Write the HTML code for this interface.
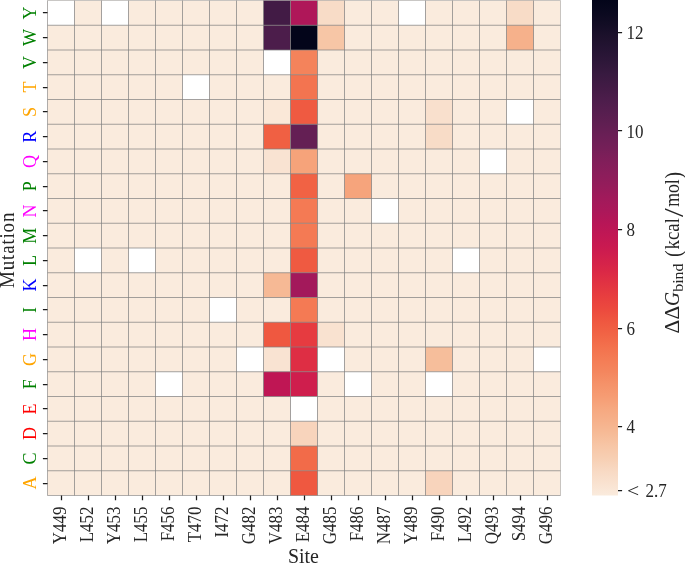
<!DOCTYPE html>
<html><head><meta charset="utf-8"><title>Heatmap</title>
<style>
html,body{margin:0;padding:0;background:#fff;}
body{width:685px;height:564px;overflow:hidden;}
svg{display:block;will-change:transform;}
text{font-family:"Liberation Serif","DejaVu Serif",serif;fill:#262626;}
.tk{font-size:17px;}
.ax{font-size:19px;}
</style></head><body>
<svg width="685" height="564" viewBox="0 0 685 564">
<defs><linearGradient id="cb" x1="0" y1="1" x2="0" y2="0">
<stop offset="0.000" stop-color="#faebdd"/>
<stop offset="0.025" stop-color="#f9e2d0"/>
<stop offset="0.050" stop-color="#f8d9c3"/>
<stop offset="0.075" stop-color="#f7cfb3"/>
<stop offset="0.100" stop-color="#f7c6a6"/>
<stop offset="0.125" stop-color="#f6bb97"/>
<stop offset="0.150" stop-color="#f6b18b"/>
<stop offset="0.175" stop-color="#f6a880"/>
<stop offset="0.200" stop-color="#f69c73"/>
<stop offset="0.225" stop-color="#f59269"/>
<stop offset="0.250" stop-color="#f4865e"/>
<stop offset="0.275" stop-color="#f47c55"/>
<stop offset="0.300" stop-color="#f3714d"/>
<stop offset="0.325" stop-color="#f16445"/>
<stop offset="0.350" stop-color="#ef5840"/>
<stop offset="0.375" stop-color="#ec4a3e"/>
<stop offset="0.400" stop-color="#e83f3f"/>
<stop offset="0.425" stop-color="#e23442"/>
<stop offset="0.450" stop-color="#db2946"/>
<stop offset="0.475" stop-color="#d3214b"/>
<stop offset="0.500" stop-color="#ca1a50"/>
<stop offset="0.525" stop-color="#c11754"/>
<stop offset="0.550" stop-color="#b71657"/>
<stop offset="0.575" stop-color="#ab185a"/>
<stop offset="0.600" stop-color="#a11a5b"/>
<stop offset="0.625" stop-color="#951c5b"/>
<stop offset="0.650" stop-color="#8b1d5b"/>
<stop offset="0.675" stop-color="#811e5a"/>
<stop offset="0.700" stop-color="#751f58"/>
<stop offset="0.725" stop-color="#6b1f56"/>
<stop offset="0.750" stop-color="#601f52"/>
<stop offset="0.775" stop-color="#561e4f"/>
<stop offset="0.800" stop-color="#4c1d4b"/>
<stop offset="0.825" stop-color="#421b45"/>
<stop offset="0.850" stop-color="#381a40"/>
<stop offset="0.875" stop-color="#2e1739"/>
<stop offset="0.900" stop-color="#251433"/>
<stop offset="0.925" stop-color="#1d112c"/>
<stop offset="0.950" stop-color="#130d25"/>
<stop offset="0.975" stop-color="#0a091f"/>
<stop offset="1.000" stop-color="#03051a"/>
</linearGradient></defs>
<rect x="0" y="0" width="685" height="564" fill="#ffffff"/>
<rect x="47.5" y="0.5" width="513.0" height="495.00" fill="#faebdd"/>
<rect x="263.50" y="0.50" width="27.0" height="24.75" fill="#421b45"/>
<rect x="290.50" y="0.50" width="27.0" height="24.75" fill="#af1759"/>
<rect x="317.50" y="0.50" width="27.0" height="24.75" fill="#f8dcc7"/>
<rect x="506.50" y="0.50" width="27.0" height="24.75" fill="#f8dcc7"/>
<rect x="263.50" y="25.25" width="27.0" height="24.75" fill="#4c1d4b"/>
<rect x="290.50" y="25.25" width="27.0" height="24.75" fill="#03051a"/>
<rect x="317.50" y="25.25" width="27.0" height="24.75" fill="#f7c6a6"/>
<rect x="506.50" y="25.25" width="27.0" height="24.75" fill="#f6b18b"/>
<rect x="290.50" y="50.00" width="27.0" height="24.75" fill="#f4835b"/>
<rect x="290.50" y="74.75" width="27.0" height="24.75" fill="#f37450"/>
<rect x="263.50" y="99.50" width="27.0" height="24.75" fill="#fae8d8"/>
<rect x="290.50" y="99.50" width="27.0" height="24.75" fill="#ef5a41"/>
<rect x="425.50" y="99.50" width="27.0" height="24.75" fill="#f9e0cd"/>
<rect x="263.50" y="124.25" width="27.0" height="24.75" fill="#f06043"/>
<rect x="290.50" y="124.25" width="27.0" height="24.75" fill="#641f54"/>
<rect x="425.50" y="124.25" width="27.0" height="24.75" fill="#f8dcc7"/>
<rect x="263.50" y="149.00" width="27.0" height="24.75" fill="#f9e3d2"/>
<rect x="290.50" y="149.00" width="27.0" height="24.75" fill="#f6a37a"/>
<rect x="290.50" y="173.75" width="27.0" height="24.75" fill="#f16244"/>
<rect x="344.50" y="173.75" width="27.0" height="24.75" fill="#f6a47c"/>
<rect x="290.50" y="198.50" width="27.0" height="24.75" fill="#f47a54"/>
<rect x="290.50" y="223.25" width="27.0" height="24.75" fill="#f47a54"/>
<rect x="290.50" y="248.00" width="27.0" height="24.75" fill="#ef5a41"/>
<rect x="263.50" y="272.75" width="27.0" height="24.75" fill="#f6b995"/>
<rect x="290.50" y="272.75" width="27.0" height="24.75" fill="#a3195b"/>
<rect x="290.50" y="297.50" width="27.0" height="24.75" fill="#f47a54"/>
<rect x="263.50" y="322.25" width="27.0" height="24.75" fill="#ef5840"/>
<rect x="290.50" y="322.25" width="27.0" height="24.75" fill="#e63b40"/>
<rect x="317.50" y="322.25" width="27.0" height="24.75" fill="#f9e2d0"/>
<rect x="263.50" y="347.00" width="27.0" height="24.75" fill="#f9e3d2"/>
<rect x="290.50" y="347.00" width="27.0" height="24.75" fill="#de2e44"/>
<rect x="425.50" y="347.00" width="27.0" height="24.75" fill="#f6be9b"/>
<rect x="263.50" y="371.75" width="27.0" height="24.75" fill="#bf1654"/>
<rect x="290.50" y="371.75" width="27.0" height="24.75" fill="#cf1e4d"/>
<rect x="290.50" y="421.25" width="27.0" height="24.75" fill="#f8d4bc"/>
<rect x="290.50" y="446.00" width="27.0" height="24.75" fill="#f26b49"/>
<rect x="290.50" y="470.75" width="27.0" height="24.75" fill="#ef5840"/>
<rect x="425.50" y="470.75" width="27.0" height="24.75" fill="#f8d4bc"/>
<rect x="47.50" y="0.50" width="27.0" height="24.75" fill="#ffffff"/>
<rect x="74.50" y="248.00" width="27.0" height="24.75" fill="#ffffff"/>
<rect x="101.50" y="0.50" width="27.0" height="24.75" fill="#ffffff"/>
<rect x="128.50" y="248.00" width="27.0" height="24.75" fill="#ffffff"/>
<rect x="155.50" y="371.75" width="27.0" height="24.75" fill="#ffffff"/>
<rect x="182.50" y="74.75" width="27.0" height="24.75" fill="#ffffff"/>
<rect x="209.50" y="297.50" width="27.0" height="24.75" fill="#ffffff"/>
<rect x="236.50" y="347.00" width="27.0" height="24.75" fill="#ffffff"/>
<rect x="263.50" y="50.00" width="27.0" height="24.75" fill="#ffffff"/>
<rect x="290.50" y="396.50" width="27.0" height="24.75" fill="#ffffff"/>
<rect x="317.50" y="347.00" width="27.0" height="24.75" fill="#ffffff"/>
<rect x="344.50" y="371.75" width="27.0" height="24.75" fill="#ffffff"/>
<rect x="371.50" y="198.50" width="27.0" height="24.75" fill="#ffffff"/>
<rect x="398.50" y="0.50" width="27.0" height="24.75" fill="#ffffff"/>
<rect x="425.50" y="371.75" width="27.0" height="24.75" fill="#ffffff"/>
<rect x="452.50" y="248.00" width="27.0" height="24.75" fill="#ffffff"/>
<rect x="479.50" y="149.00" width="27.0" height="24.75" fill="#ffffff"/>
<rect x="506.50" y="99.50" width="27.0" height="24.75" fill="#ffffff"/>
<rect x="533.50" y="347.00" width="27.0" height="24.75" fill="#ffffff"/>
<path d="M74.50 0.50V495.50M101.50 0.50V495.50M128.50 0.50V495.50M155.50 0.50V495.50M182.50 0.50V495.50M209.50 0.50V495.50M236.50 0.50V495.50M263.50 0.50V495.50M290.50 0.50V495.50M317.50 0.50V495.50M344.50 0.50V495.50M371.50 0.50V495.50M398.50 0.50V495.50M425.50 0.50V495.50M452.50 0.50V495.50M479.50 0.50V495.50M506.50 0.50V495.50M533.50 0.50V495.50M47.50 25.25H560.50M47.50 50.00H560.50M47.50 74.75H560.50M47.50 99.50H560.50M47.50 124.25H560.50M47.50 149.00H560.50M47.50 173.75H560.50M47.50 198.50H560.50M47.50 223.25H560.50M47.50 248.00H560.50M47.50 272.75H560.50M47.50 297.50H560.50M47.50 322.25H560.50M47.50 347.00H560.50M47.50 371.75H560.50M47.50 396.50H560.50M47.50 421.25H560.50M47.50 446.00H560.50M47.50 470.75H560.50" stroke="#808080" stroke-opacity="0.72" stroke-width="1" fill="none"/>
<path d="M47.50 0.50V495.50H560.50" stroke="#808080" stroke-opacity="0.62" stroke-width="1" fill="none"/>
<path d="M47.50 0.50H560.50V495.50" stroke="#808080" stroke-opacity="0.42" stroke-width="1" fill="none"/>
<rect x="592.0" y="0" width="26.00" height="495.50" fill="url(#cb)"/>
<path d="M61.50 495.50v4.7M88.50 495.50v4.7M115.50 495.50v4.7M142.50 495.50v4.7M169.50 495.50v4.7M196.50 495.50v4.7M223.50 495.50v4.7M250.50 495.50v4.7M277.50 495.50v4.7M304.50 495.50v4.7M331.50 495.50v4.7M358.50 495.50v4.7M385.50 495.50v4.7M412.50 495.50v4.7M439.50 495.50v4.7M466.50 495.50v4.7M493.50 495.50v4.7M520.50 495.50v4.7M547.50 495.50v4.7M47.50 12.50h-4.6M47.50 37.50h-4.6M47.50 62.50h-4.6M47.50 87.50h-4.6M47.50 111.50h-4.6M47.50 136.50h-4.6M47.50 161.50h-4.6M47.50 186.50h-4.6M47.50 210.50h-4.6M47.50 235.50h-4.6M47.50 260.50h-4.6M47.50 285.50h-4.6M47.50 309.50h-4.6M47.50 334.50h-4.6M47.50 359.50h-4.6M47.50 384.50h-4.6M47.50 408.50h-4.6M47.50 433.50h-4.6M47.50 458.50h-4.6M47.50 483.50h-4.6M618.00 32.50h4.1M618.00 130.50h4.1M618.00 229.50h4.1M618.00 328.50h4.1M618.00 426.50h4.1M618.00 490.50h4.1" stroke="#1c1c1c" stroke-width="1.25" fill="none"/>
<text class="tk" transform="translate(626.5 39.35) scale(1 1.09)">12</text>
<text class="tk" transform="translate(626.5 137.87) scale(1 1.09)">10</text>
<text class="tk" transform="translate(626.5 236.39) scale(1 1.09)">8</text>
<text class="tk" transform="translate(626.5 334.91) scale(1 1.09)">6</text>
<text class="tk" transform="translate(626.5 433.43) scale(1 1.09)">4</text>
<text class="tk" transform="translate(626.5 497.47) scale(1 1.09)"><tspan x="0.6" textLength="12.2" lengthAdjust="spacingAndGlyphs">&lt;</tspan> <tspan x="18.9">2.7</tspan></text>
<text class="tk" transform="translate(36.2 12.88) rotate(-90) scale(1.06 1.09)" text-anchor="middle" style="fill:#008000">Y</text>
<text class="tk" transform="translate(36.2 37.62) rotate(-90) scale(1.06 1.09)" text-anchor="middle" style="fill:#008000">W</text>
<text class="tk" transform="translate(36.2 62.38) rotate(-90) scale(1.06 1.09)" text-anchor="middle" style="fill:#008000">V</text>
<text class="tk" transform="translate(36.2 87.12) rotate(-90) scale(1.06 1.09)" text-anchor="middle" style="fill:#ffa500">T</text>
<text class="tk" transform="translate(36.2 111.88) rotate(-90) scale(1.06 1.09)" text-anchor="middle" style="fill:#ffa500">S</text>
<text class="tk" transform="translate(36.2 136.62) rotate(-90) scale(1.06 1.09)" text-anchor="middle" style="fill:#0000ff">R</text>
<text class="tk" transform="translate(36.2 161.38) rotate(-90) scale(1.06 1.09)" text-anchor="middle" style="fill:#ff00ff">Q</text>
<text class="tk" transform="translate(36.2 186.12) rotate(-90) scale(1.06 1.09)" text-anchor="middle" style="fill:#008000">P</text>
<text class="tk" transform="translate(36.2 210.88) rotate(-90) scale(1.06 1.09)" text-anchor="middle" style="fill:#ff00ff">N</text>
<text class="tk" transform="translate(36.2 235.62) rotate(-90) scale(1.06 1.09)" text-anchor="middle" style="fill:#008000">M</text>
<text class="tk" transform="translate(36.2 260.38) rotate(-90) scale(1.06 1.09)" text-anchor="middle" style="fill:#008000">L</text>
<text class="tk" transform="translate(36.2 285.12) rotate(-90) scale(1.06 1.09)" text-anchor="middle" style="fill:#0000ff">K</text>
<text class="tk" transform="translate(36.2 309.88) rotate(-90) scale(1.06 1.09)" text-anchor="middle" style="fill:#008000">I</text>
<text class="tk" transform="translate(36.2 334.62) rotate(-90) scale(1.06 1.09)" text-anchor="middle" style="fill:#ff00ff">H</text>
<text class="tk" transform="translate(36.2 359.38) rotate(-90) scale(1.06 1.09)" text-anchor="middle" style="fill:#ffa500">G</text>
<text class="tk" transform="translate(36.2 384.12) rotate(-90) scale(1.06 1.09)" text-anchor="middle" style="fill:#008000">F</text>
<text class="tk" transform="translate(36.2 408.88) rotate(-90) scale(1.06 1.09)" text-anchor="middle" style="fill:#ff0000">E</text>
<text class="tk" transform="translate(36.2 433.62) rotate(-90) scale(1.06 1.09)" text-anchor="middle" style="fill:#ff0000">D</text>
<text class="tk" transform="translate(36.2 458.38) rotate(-90) scale(1.06 1.09)" text-anchor="middle" style="fill:#008000">C</text>
<text class="tk" transform="translate(36.2 483.12) rotate(-90) scale(1.06 1.09)" text-anchor="middle" style="fill:#ffa500">A</text>
<text class="tk" transform="translate(66.30 506.4) rotate(-90) scale(1 1.09)" text-anchor="end">Y449</text>
<text class="tk" transform="translate(93.30 506.4) rotate(-90) scale(1 1.09)" text-anchor="end">L452</text>
<text class="tk" transform="translate(120.30 506.4) rotate(-90) scale(1 1.09)" text-anchor="end">Y453</text>
<text class="tk" transform="translate(147.30 506.4) rotate(-90) scale(1 1.09)" text-anchor="end">L455</text>
<text class="tk" transform="translate(174.30 506.4) rotate(-90) scale(1 1.09)" text-anchor="end">F456</text>
<text class="tk" transform="translate(201.30 506.4) rotate(-90) scale(1 1.09)" text-anchor="end">T470</text>
<text class="tk" transform="translate(228.30 506.4) rotate(-90) scale(1 1.09)" text-anchor="end">I472</text>
<text class="tk" transform="translate(255.30 506.4) rotate(-90) scale(1 1.09)" text-anchor="end">G482</text>
<text class="tk" transform="translate(282.30 506.4) rotate(-90) scale(1 1.09)" text-anchor="end">V483</text>
<text class="tk" transform="translate(309.30 506.4) rotate(-90) scale(1 1.09)" text-anchor="end">E484</text>
<text class="tk" transform="translate(336.30 506.4) rotate(-90) scale(1 1.09)" text-anchor="end">G485</text>
<text class="tk" transform="translate(363.30 506.4) rotate(-90) scale(1 1.09)" text-anchor="end">F486</text>
<text class="tk" transform="translate(390.30 506.4) rotate(-90) scale(1 1.09)" text-anchor="end">N487</text>
<text class="tk" transform="translate(417.30 506.4) rotate(-90) scale(1 1.09)" text-anchor="end">Y489</text>
<text class="tk" transform="translate(444.30 506.4) rotate(-90) scale(1 1.09)" text-anchor="end">F490</text>
<text class="tk" transform="translate(471.30 506.4) rotate(-90) scale(1 1.09)" text-anchor="end">L492</text>
<text class="tk" transform="translate(498.30 506.4) rotate(-90) scale(1 1.09)" text-anchor="end">Q493</text>
<text class="tk" transform="translate(525.30 506.4) rotate(-90) scale(1 1.09)" text-anchor="end">S494</text>
<text class="tk" transform="translate(552.30 506.4) rotate(-90) scale(1 1.09)" text-anchor="end">G496</text>
<text class="ax" transform="translate(303.4 563) scale(1 1.06)" text-anchor="middle" textLength="31" lengthAdjust="spacingAndGlyphs">Site</text>
<text class="ax" transform="translate(14.3 250.3) rotate(-90) scale(1 1.06)" text-anchor="middle" textLength="75.4" lengthAdjust="spacing">Mutation</text>
<g transform="translate(679.4 333.4) rotate(-90) scale(1 1.06)">
<text class="ax"><tspan x="0.0" y="0" textLength="27.6" lengthAdjust="spacingAndGlyphs">ΔΔ</tspan><tspan x="27.4" y="0" textLength="14.0" lengthAdjust="spacingAndGlyphs" style="font-style:italic">G</tspan><tspan x="41.6" y="3.2" textLength="28.4" lengthAdjust="spacingAndGlyphs" style="font-size:13.5px">bind</tspan> <tspan x="76.4" y="1.2" textLength="6.6" lengthAdjust="spacingAndGlyphs" style="font-size:22px">(</tspan><tspan x="84.0" y="0" textLength="31.3" lengthAdjust="spacingAndGlyphs">kcal</tspan><tspan x="116.4" y="3.0" textLength="8.8" lengthAdjust="spacingAndGlyphs" style="font-size:25px">/</tspan><tspan x="126.6" y="0" textLength="27.6" lengthAdjust="spacingAndGlyphs">mol</tspan><tspan x="155.0" y="1.2" textLength="6.6" lengthAdjust="spacingAndGlyphs" style="font-size:22px">)</tspan></text>
</g>
</svg></body></html>
